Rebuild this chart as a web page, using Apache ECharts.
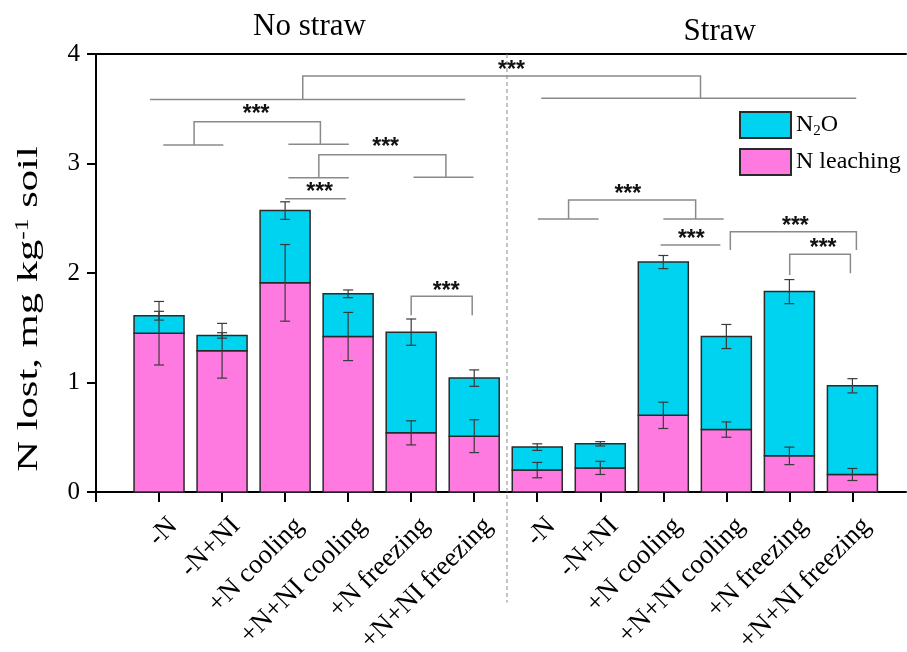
<!DOCTYPE html>
<html>
<head>
<meta charset="utf-8">
<script src="https://cdn.jsdelivr.net/npm/echarts@6/dist/echarts.min.js"></script>
<style>
html,body{margin:0;padding:0;background:#fff;}
#main{width:907px;height:652px;}
</style>
</head>
<body>
<div id="main"></div>
<script>
// treatments: first 6 no straw, last 6 straw
var categories = ['-N', '-N+NI', '+N cooling', '+N+NI cooling', '+N freezing', '+N+NI freezing',
                  '-N', '-N+NI', '+N cooling', '+N+NI cooling', '+N freezing', '+N+NI freezing'];
var leaching    = [1.45, 1.29, 1.91, 1.42, 0.54, 0.51, 0.20, 0.22, 0.70, 0.57, 0.33, 0.16];
var n2o         = [0.16, 0.14, 0.66, 0.39, 0.92, 0.53, 0.21, 0.22, 1.40, 0.85, 1.50, 0.81];
var leachingErr = [0.29, 0.25, 0.35, 0.22, 0.11, 0.15, 0.07, 0.06, 0.12, 0.07, 0.08, 0.055];
var totalErr    = [0.04, 0.025, 0.08, 0.035, 0.12, 0.075, 0.03, 0.02, 0.06, 0.11, 0.11, 0.065];

// significance brackets: x1, x2, yTop, yLeftEnd, yRightEnd
var brackets = [
  [3.28, 9.59, 3.80, 3.585, 3.595],
  [1.556, 3.56, 3.382, 3.169, 3.175],
  [3.535, 5.551, 3.08, 2.87, 2.875],
  [5.0, 5.968, 1.787, 1.614, 1.614],
  [7.497, 9.513, 2.667, 2.493, 2.493],
  [10.063, 12.063, 2.377, 2.21, 2.21],
  [11.005, 11.968, 2.171, 1.982, 1.997]
];
// short group lines: x1, x2, y
var groupLines = [
  [0.857, 5.857, 3.585], [7.063, 12.06, 3.595],
  [1.068, 2.02, 3.169], [3.052, 4.011, 3.175],
  [3.052, 4.011, 2.87], [5.037, 5.989, 2.875],
  [3.0, 3.963, 2.678],
  [7.011, 7.973, 2.493], [9.0, 9.957, 2.493],
  [8.957, 9.905, 2.256]
];
// "***" labels: x, y
var stars = [[6.59, 3.85], [2.54, 3.443], [4.595, 3.148], [3.548, 2.733], [5.556, 1.833],
             [8.437, 2.719], [9.444, 2.308], [11.095, 2.423], [11.535, 2.226]];
// dashed separator: x, yTop, yBottom
var separator = [[6.52, 4, -1.01]];

var serif = '"Liberation Serif", "Times New Roman", serif';
var myChart = echarts.init(document.getElementById('main'));

// stacked bar piece: x, from, to
function barItem(params, api) {
  var a = api.coord([api.value(0), api.value(1)]);
  var b = api.coord([api.value(0), api.value(2)]);
  return {type: 'rect', shape: {x: a[0] - 25, y: b[1], width: 50, height: a[1] - b[1]},
          style: api.style()};
}

function errorItem(params, api) {
  var x = api.value(0), c = api.value(1), e = api.value(2);
  var a = api.coord([x, c + e]), b = api.coord([x, c - e]);
  var h = 5, st = {stroke: '#3a3a3a', lineWidth: 1.2};
  return {type: 'group', children: [
    {type: 'line', shape: {x1: a[0], y1: a[1], x2: b[0], y2: b[1]}, style: st},
    {type: 'line', shape: {x1: a[0] - h, y1: a[1], x2: a[0] + h, y2: a[1]}, style: st},
    {type: 'line', shape: {x1: b[0] - h, y1: b[1], x2: b[0] + h, y2: b[1]}, style: st}
  ]};
}

var leachBars = [], n2oBars = [], errData = [];
for (var i = 0; i < categories.length; i++) {
  leachBars.push([i + 1, 0, leaching[i]]);
  n2oBars.push([i + 1, leaching[i], leaching[i] + n2o[i]]);
  errData.push([i + 1, leaching[i], leachingErr[i]]);
  errData.push([i + 1, leaching[i] + n2o[i], totalErr[i]]);
}
var tickVals = [0];
for (var k = 0; k < categories.length; k++) tickVals.push(k + 1);

var option = {
  animation: false,
  graphic: [
    {type: 'text', x: 309.5, y: 26.5, style: {text: 'No straw', font: '31px ' + serif, fill: '#000', align: 'center', verticalAlign: 'middle'}},
    {type: 'text', x: 719.7, y: 31.5, style: {text: 'Straw', font: '31px ' + serif, fill: '#000', align: 'center', verticalAlign: 'middle'}},
    {type: 'text', x: 29, y: 309, rotation: Math.PI / 2, scaleX: 1.42,
     style: {text: '{a|N lost, mg kg}{s|-1}{a| soil}', align: 'center', verticalAlign: 'middle',
       rich: {a: {fontSize: 30, fontFamily: serif, fill: '#000'},
              s: {fontSize: 18, fontFamily: serif, fill: '#000', padding: [0, 0, 12, 0]}}}}
  ],
  legend: {
    orient: 'vertical', left: 739, top: 111, padding: 0,
    itemWidth: 51, itemHeight: 26, itemGap: 9, icon: 'rect', selectedMode: false,
    data: ['N2O', 'N leaching'],
    formatter: function (name) {
      return name === 'N2O' ? '{t|N}{s|2}{t|O}' : '{t|' + name + '}';
    },
    textStyle: {
      color: '#000',
      rich: {
        t: {fontSize: 24, fontFamily: serif, color: '#000'},
        s: {fontSize: 15, fontFamily: serif, color: '#000', padding: [12, 0, 0, 0]}
      }
    }
  },
  grid: {left: 96, right: 1, top: 54, bottom: 160, outerBoundsMode: 'none', containLabel: false},
  xAxis: [
    {
      type: 'value', min: 0, max: 12.85,
      splitLine: {show: false},
      axisLine: {show: true, lineStyle: {color: '#000', width: 2}},
      axisTick: {show: true, length: 10, customValues: tickVals, lineStyle: {color: '#000', width: 2}},
      axisLabel: {
        customValues: tickVals, rotate: 45, margin: 44, padding: [0, -20, 0, 0],
        fontFamily: serif, fontSize: 27, color: '#000',
        formatter: function (v) { return categories[v - 1] || ''; }
      }
    },
    {
      type: 'value', position: 'top', min: 0, max: 12.85,
      splitLine: {show: false}, axisTick: {show: false}, axisLabel: {show: false},
      axisLine: {show: true, lineStyle: {color: '#000', width: 2}}
    }
  ],
  yAxis: {
    type: 'value', min: 0, max: 4, interval: 1,
    splitLine: {show: false},
    axisLine: {show: true, lineStyle: {color: '#000', width: 2}},
    axisTick: {show: true, length: 9, lineStyle: {color: '#000', width: 2}},
    axisLabel: {margin: 16, fontFamily: serif, fontSize: 25, color: '#000'}
  },
  series: [
    {
      name: 'N leaching', type: 'custom', z: 2,
      encode: {x: 0, y: [1, 2]},
      data: leachBars, renderItem: barItem,
      itemStyle: {color: '#ff7ae0', borderColor: '#2a2a2a', borderWidth: 1.5}
    },
    {
      name: 'N2O', type: 'custom', z: 2,
      encode: {x: 0, y: [1, 2]},
      data: n2oBars, renderItem: barItem,
      itemStyle: {color: '#00d3ef', borderColor: '#2a2a2a', borderWidth: 1.5}
    },
    {
      type: 'custom', name: 'err', z: 5, clip: false,
      encode: {x: 0, y: 1},
      data: errData,
      renderItem: errorItem
    },
    {
      type: 'custom', name: 'brackets', z: 5, clip: false,
      encode: {x: [0, 1], y: [2, 3, 4]},
      data: brackets,
      renderItem: function (params, api) {
        var p1 = api.coord([api.value(0), api.value(3)]);
        var p2 = api.coord([api.value(0), api.value(2)]);
        var p3 = api.coord([api.value(1), api.value(2)]);
        var p4 = api.coord([api.value(1), api.value(4)]);
        return {type: 'polyline', shape: {points: [p1, p2, p3, p4]},
                style: {stroke: '#8a8a8a', lineWidth: 1.5, fill: null}};
      }
    },
    {
      type: 'custom', name: 'groups', z: 5, clip: false,
      encode: {x: [0, 1], y: 2},
      data: groupLines,
      renderItem: function (params, api) {
        var a = api.coord([api.value(0), api.value(2)]);
        var b = api.coord([api.value(1), api.value(2)]);
        return {type: 'line', shape: {x1: a[0], y1: a[1], x2: b[0], y2: b[1]},
                style: {stroke: '#8a8a8a', lineWidth: 1.5}};
      }
    },
    {
      type: 'custom', name: 'stars', z: 6, clip: false,
      encode: {x: 0, y: 1},
      data: stars,
      renderItem: function (params, api) {
        var p = api.coord([api.value(0), api.value(1)]);
        return {type: 'text', x: p[0], y: p[1],
                style: {text: '***', fill: '#111', font: 'bold 23px "Liberation Sans", Arial, sans-serif',
                        align: 'center', verticalAlign: 'middle'}};
      }
    },
    {
      type: 'custom', name: 'sep', z: 1, clip: false,
      encode: {x: 0, y: [1, 2]},
      data: separator,
      renderItem: function (params, api) {
        var a = api.coord([api.value(0), api.value(1)]);
        var b = api.coord([api.value(0), api.value(2)]);
        return {type: 'line', shape: {x1: a[0], y1: a[1], x2: b[0], y2: b[1]},
                style: {stroke: '#888', lineWidth: 1, lineDash: [4, 3]}};
      }
    }
  ]
};
myChart.setOption(option);
</script>
</body>
</html>
